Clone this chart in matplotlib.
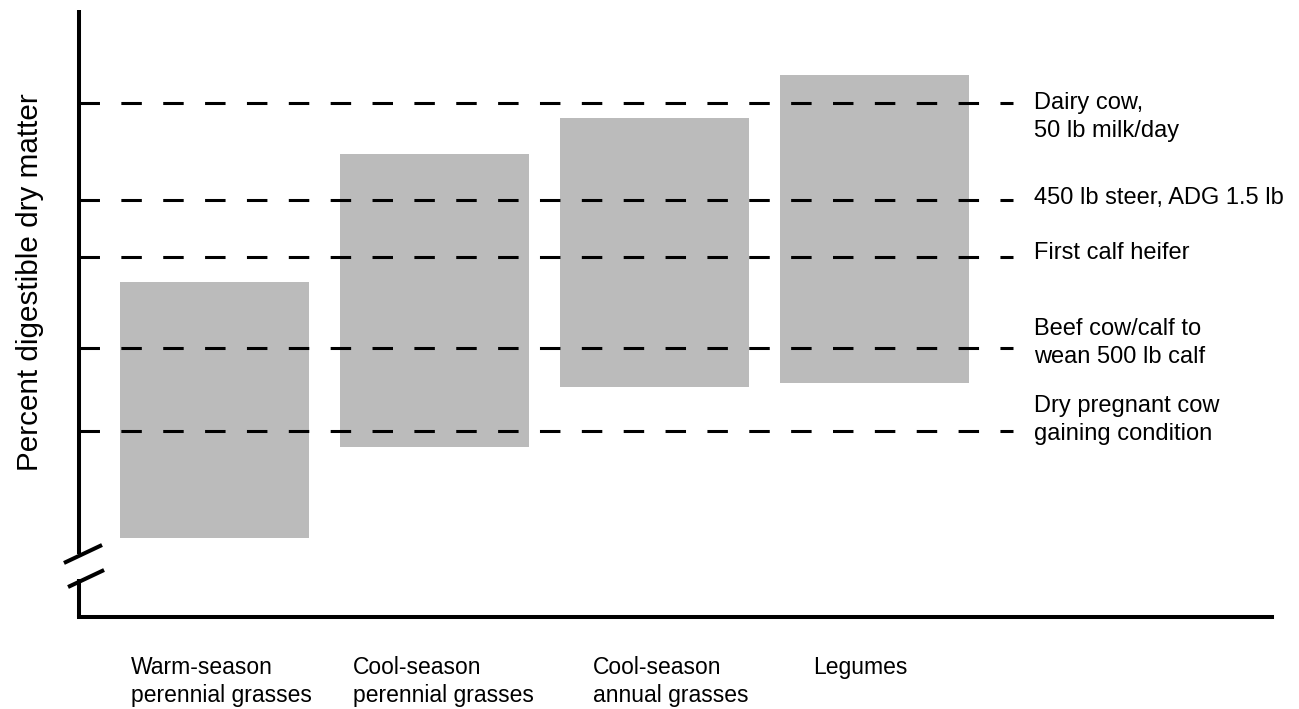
import matplotlib
matplotlib.use("Agg")
import matplotlib.pyplot as plt
import numpy as np

plt.rcParams['font.family'] = ['Liberation Sans', 'DejaVu Sans']

# forage classes and their digestibility range (arbitrary axis units, no ticks in original)
forages = ['Warm-season\nperennial grasses', 'Cool-season\nperennial grasses',
           'Cool-season\nannual grasses', 'Legumes']
range_low = [7.9, 17.0, 23.0, 23.4]
range_high = [33.5, 46.3, 49.9, 54.2]

# animal requirement levels
animals = ['Dairy cow,\n50 lb milk/day', '450 lb steer, ADG 1.5 lb', 'First calf heifer',
           'Beef cow/calf to\nwean 500 lb calf', 'Dry pregnant cow\ngaining condition']
req_level = [51.4, 41.7, 36.0, 26.9, 18.6]
label_y = [50.0, 41.9, 36.4, 27.4, 19.7]

fig = plt.figure(figsize=(12.99, 7.09), dpi=100)
ax = fig.add_axes([79/1299, 92/709, 1193/1299, 607/709])

x = np.arange(len(forages))
heights = np.array(range_high) - np.array(range_low)
ax.bar(x, heights, bottom=range_low, width=0.855, color='#bbbbbb', zorder=1)

x0, x1 = -0.616, 4.807
ax.hlines(req_level, x0, 3.63, colors='black', linewidth=2.2,
          linestyles=(0, (6.7, 7)), zorder=2, clip_on=False)

for lab, yy in zip(animals, label_y):
    ax.text(3.725, yy, lab, fontsize=17, va='center', ha='left', linespacing=1.38)

# category labels under the axis
lab_x = [-0.38, 0.63, 1.72, 2.72]
for lab, xx in zip(forages, lab_x):
    ax.text(xx, -0.064, lab, transform=ax.get_xaxis_transform(), fontsize=16.5,
            va='top', ha='left', linespacing=1.28)

ax.set_xlim(x0, x1)
ax.set_ylim(0, 60.7)
ax.set_xticks([])
ax.set_yticks([])
for s in ['top', 'right', 'left']:
    ax.spines[s].set_visible(False)
ax.spines['bottom'].set_linewidth(2.9)

# left axis with break marks
lk = dict(color='black', lw=2.9, transform=ax.transAxes, clip_on=False, solid_capstyle='butt')
ax.plot([0, 0], [0, 0.062], **lk)
ax.plot([0, 0], [0.104, 1.0], **lk)
ax.plot([-0.0126, 0.0193], [0.089, 0.1186], **lk)
ax.plot([-0.0092, 0.021], [0.0494, 0.0774], **lk)

fig.text(30/1299, 1 - 282/709, 'Percent digestible dry matter', rotation=90,
         fontsize=21.3, va='center', ha='center')

fig.savefig('out.png', dpi=100)
